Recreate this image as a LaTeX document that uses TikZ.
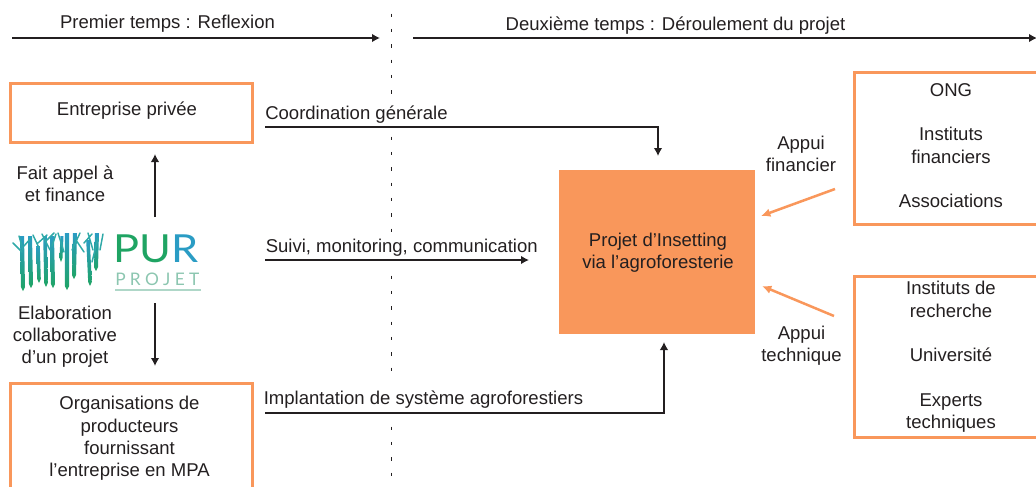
\documentclass[tikz,border=0pt]{standalone}
\usepackage{fontspec}
\setmainfont{Liberation Sans}
\newfontfamily\logofont{Lato}
\usetikzlibrary{arrows.meta,calc}
\definecolor{orng}{HTML}{F9975B}
\definecolor{ink}{HTML}{231F20}
\definecolor{lgreen}{HTML}{1FA463}
\definecolor{lblue}{HTML}{2A9CC4}
\definecolor{lteal}{HTML}{2FA9A8}
\definecolor{lpale}{HTML}{8CC6B0}
\tikzset{
  every node/.style={font=\fontsize{13.9pt}{16.7pt}\selectfont,text=ink,align=center,inner sep=0pt},
  framebox/.style={draw=orng,line width=2.25pt,inner sep=0pt},
  blk/.style={draw=ink,line width=2pt,-{Latex[length=6pt,width=6.5pt]}},
  org/.style={draw=orng,line width=1.9pt,-{Latex[length=7pt,width=6.5pt]}},
  sep/.style={draw=ink,line width=0.7pt,dash pattern=on 2.6pt off 8.9pt},
  twig/.style={line width=1.1pt,line cap=round,draw=lteal},
}
\newcommand{\tree}[5]{\shade[top color=lblue,bottom color=lgreen] (#1-#4,#2) -- (#1+#4,#2) -- (#3+#4,#5+4) -- (#3,#5) -- (#3-#4,#5+4) -- cycle;}
\begin{document}
\begin{tikzpicture}[x=0.75pt,y=0.75pt]
\useasboundingbox (0,0) rectangle (1036,-486);
\clip (0,0) rectangle (1036,-486);
% boxes
\node[framebox,minimum width=181.5pt,minimum height=44pt] (ent) at (131,-113) {};
\node[framebox,minimum width=181.5pt,minimum height=120pt] (org) at (131,-463) {};
\node[framebox,minimum width=180pt,minimum height=113.5pt] (fin) at (974,-148.5) {};
\node[framebox,minimum width=180pt,minimum height=121pt] (tec) at (974,-357) {};
\node[fill=orng,minimum width=147.5pt,minimum height=123pt] (proj) at (657,-252) {};
% box texts
\node (entT) at (127,-110.5) {Entreprise privée};
\node (orgT) at (129.5,-438.5) {Organisations de\\producteurs\\fournissant\\l’entreprise en MPA};
\node (finT) at (951,-145.5) {ONG\\[16.7pt]Instituts\\financiers\\[16.7pt]Associations};
\node (tecT) at (951,-357) {Instituts de\\recherche\\[16.7pt]Université\\[16.7pt]Experts\\techniques};
\node (projT) at (658,-252.5) {Projet d’Insetting\\via l’agroforesterie};
% headings
\node (h1) at (167.5,-23.5) {Premier temps : Reflexion};
\node (h2) at (675.5,-25.5) {Deuxième temps : Déroulement du projet};
\coordinate (a1s) at (12,-38); \coordinate (a1e) at (380,-38);
\coordinate (a2s) at (413,-38); \coordinate (a2e) at (1037,-38);
\draw[blk] (a1s) -- (a1e);
\draw[blk] (a2s) -- (a2e);
% separator
\coordinate (s1) at (391,-13.5); \coordinate (s2) at (391,-96);
\coordinate (s3) at (391,-136.5); \coordinate (s4) at (391,-232);
\coordinate (s5) at (391,-275.5); \coordinate (s6) at (391,-382);
\coordinate (s7) at (391,-426.5); \coordinate (s8) at (391,-476);
\draw[sep] (s1) -- (s2);
\draw[sep] (s3) -- (s4);
\draw[sep] (s5) -- (s6);
\draw[sep] (s7) -- (s8);
% labels
\node[anchor=west] (l1) at (265,-114.5) {Coordination générale};
\node[anchor=west] (l2) at (265.5,-247.5) {Suivi, monitoring, communication};
\node[anchor=west] (l3) at (263.5,-400) {Implantation de système agroforestiers};
\node (fa) at (65,-183.5) {Fait appel à\\et finance};
\node (ela) at (65,-336.5) {Elaboration\\collaborative\\d’un projet};
\node (af) at (801,-154) {Appui\\financier};
\node (at) at (801.5,-346) {Appui\\technique};
% connectors
\coordinate (c1) at (265,-127); \coordinate (c2) at (658,-127); \coordinate (c3) at (658,-156);
\draw[blk] (c1) -- (c2) -- (c3);
\coordinate (m1) at (265,-260); \coordinate (m2) at (529,-260);
\draw[blk] (m1) -- (m2);
\coordinate (b1) at (265,-413); \coordinate (b2) at (664,-413); \coordinate (b3) at (664,-342);
\draw[blk] (b1) -- (b2) -- (b3);
\coordinate (u1) at (155,-217); \coordinate (u2) at (155,-154);
\draw[blk] (u1) -- (u2);
\coordinate (d1) at (155,-303); \coordinate (d2) at (155,-366);
\draw[blk] (d1) -- (d2);
\coordinate (o1) at (835,-189); \coordinate (o2) at (761,-216);
\draw[org] (o1) -- (o2);
\coordinate (o3) at (834,-316); \coordinate (o4) at (762,-286);
\draw[org] (o3) -- (o4);
% logo trees
\tree{22}{-236}{23}{2}{-291}
\tree{30}{-236}{31}{2}{-288}
\tree{38}{-246}{39}{1.8}{-283}
\tree{45}{-236}{46}{1.8}{-287}
\tree{52}{-236}{53}{2}{-288}
\tree{62}{-236}{61}{1.5}{-262}
\tree{67}{-233}{67}{2.2}{-290}
\tree{75}{-233}{74}{2}{-279}
\tree{88}{-240}{90}{1.8}{-286}
\tree{97}{-233}{96}{2}{-271}
\draw[twig] (13,-243) -- (22,-252) (19,-236) -- (23,-250) (24,-246) -- (31,-238) (33,-235) -- (39,-248) (38,-243) -- (47,-235) (42,-234) -- (50,-250) (47,-240) -- (54,-233) (52,-246) -- (56,-234) (58,-233) -- (64,-252) (72,-250) -- (80,-233) (76,-240) -- (84,-252) (84,-243) -- (92,-234) (88,-233) -- (93,-250) (92,-262) -- (98,-238) (100,-250) -- (103,-234);
% logo text
\node[anchor=base west,xscale=1.12,font=\logofont\fontsize{29pt}{29pt}\selectfont] (pur) at (113,-262) {\textcolor{lgreen}{PU}\textcolor{lblue}{R}};
\node[anchor=base west,font=\logofont\fontsize{13pt}{13pt}\selectfont,text=lpale] (pj) at (115,-285) {P\kern3.2pt R\kern3.2pt O\kern3.2pt J\kern3.2pt E\kern3.2pt T};
\coordinate (r1) at (115,-290); \coordinate (r2) at (201,-290);
\draw[draw=lpale!70,line width=1.3pt] (r1) -- (r2);
\end{tikzpicture}
\end{document}
